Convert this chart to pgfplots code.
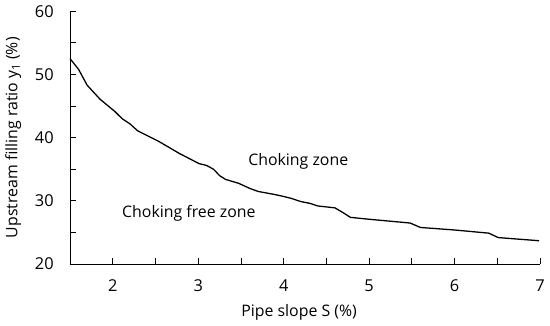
\documentclass[border=0pt]{standalone}
\usepackage{pgfplots}
\pgfplotsset{compat=1.18}
\usepackage{fontspec}
\setmainfont{Open Sans}
\begin{document}
\fontsize{16}{19}\selectfont
\begin{tikzpicture}
\begin{axis}[
  scale only axis,
  width=474pt, height=255pt,
  xmin=1.5, xmax=7, ymin=20, ymax=60,
  axis x line*=bottom, axis y line*=left,
  axis line style={line width=0.9pt},
  xtick={2,3,4,5,6,7},
  minor xtick={2.5,3.5,4.5,5.5,6.5},
  ytick={20,30,40,50,60},
  minor ytick={25,35,45,55},
  tick align=inside,
  major tick length=6pt, minor tick length=6pt,
  tick style={line width=0.9pt, black},
  /pgf/number format/assume math mode=true,
  ticklabel style={font=\fontsize{16.5}{19}\selectfont},
  xticklabel style={yshift=-10pt},
  yticklabel style={xshift=-11pt},
  xlabel={Pipe slope S (\%)},
  ylabel={Upstream filling ratio y\textsubscript{1} (\%)},
  label style={font=\fontsize{16}{19}\selectfont},
  xlabel style={yshift=-2pt, xshift=-6pt},
  ylabel style={yshift=3pt},
  clip=false,
]
\addplot[black, line width=1.3pt] coordinates {
(1.50,52.5) (1.60,50.8) (1.70,48.3) (1.85,46.1) (1.93,45.2) (2.02,44.2)
(2.11,43.0) (2.20,42.2) (2.29,41.1) (2.54,39.4) (2.78,37.5) (3.01,35.9)
(3.10,35.6) (3.18,35.0) (3.25,34.0) (3.32,33.4) (3.47,32.8) (3.60,32.0)
(3.70,31.5) (3.90,31.0) (4.00,30.7) (4.09,30.4) (4.20,29.9) (4.31,29.6)
(4.40,29.2) (4.60,28.9) (4.70,28.1) (4.78,27.4) (5.00,27.1) (5.48,26.5)
(5.60,25.8) (6.00,25.4) (6.40,24.9) (6.51,24.2) (6.99,23.7)
};
\node[anchor=center] at (axis cs:4.17,36.3) {Choking zone};
\node[anchor=center] at (axis cs:2.89,28.0) {Choking free zone};
\end{axis}
\end{tikzpicture}
\end{document}
